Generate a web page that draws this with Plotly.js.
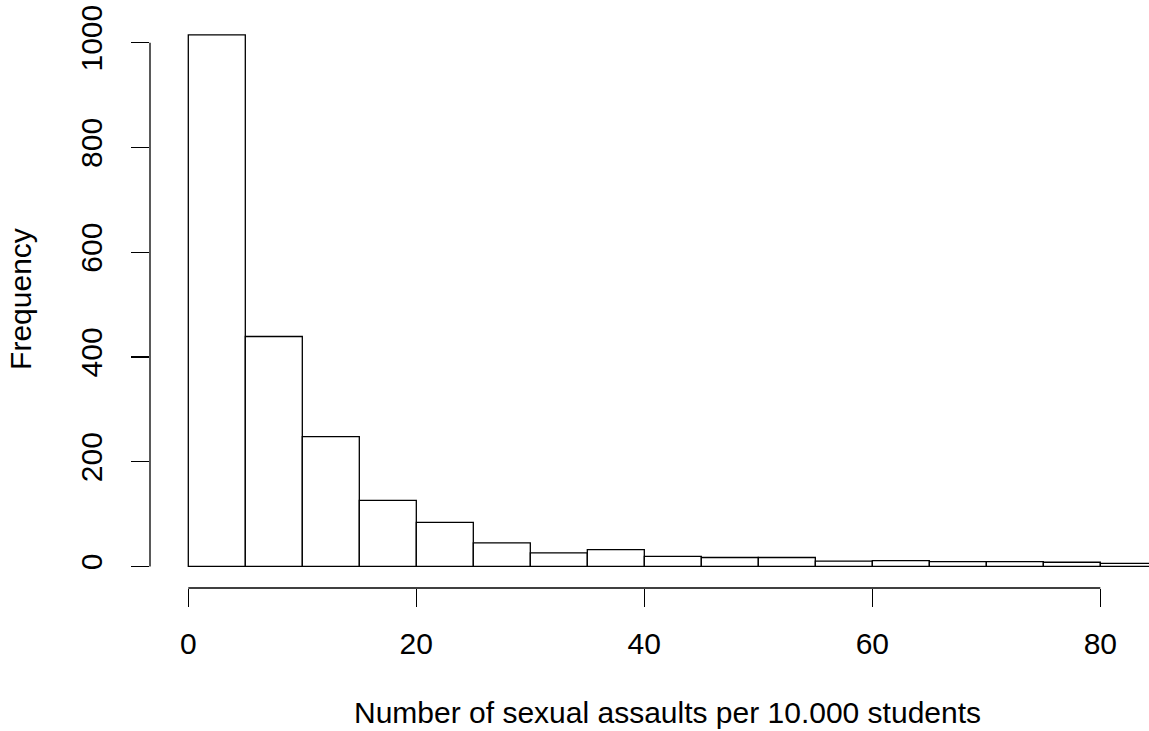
<!DOCTYPE html>
<html>
<head>
<meta charset="utf-8">
<script src="https://cdn.plot.ly/plotly-3.0.1.min.js"></script>
<style>
  html, body { margin: 0; padding: 0; background: #ffffff; }
  #chart { width: 1149px; height: 731px; }
</style>
</head>
<body>
<div id="chart"></div>
<script>
// Histogram bins (left edges, width 5) and frequencies
const binStarts = [0, 5, 10, 15, 20, 25, 30, 35, 40, 45, 50, 55, 60, 65, 70, 75, 80];
const binWidth = 5;
const counts = [1015, 439, 248, 126, 84, 45, 26, 32, 19, 17, 17, 10, 11, 9, 9, 8, 6];
const xTicks = [0, 20, 40, 60, 80];
const yTicks = [0, 200, 400, 600, 800, 1000];
const xTitle = "Number of sexual assaults per 10.000 students";
const yTitle = "Frequency";

const font = { family: "Liberation Sans, Arial, sans-serif", size: 30, color: "#000000" };

const trace = {
  type: "bar",
  x: binStarts,
  y: counts,
  width: binStarts.map(() => binWidth),
  offset: 0,
  marker: { color: "#ffffff", line: { color: "#000000", width: 1.3 } },
  hoverinfo: "x+y"
};

const layout = {
  width: 1149,
  height: 731,
  paper_bgcolor: "#ffffff",
  plot_bgcolor: "#ffffff",
  showlegend: false,
  font: font,
  margin: { l: 150, r: 0, t: 10, b: 143 },
  bargap: 0,
  xaxis: {
    range: [-3.36, 84.27],
    tickvals: xTicks,
    ticktext: xTicks.map(String),
    ticks: "outside",
    ticklen: 18,
    tickwidth: 1.3,
    tickcolor: "#000000",
    showline: false,
    showgrid: false,
    zeroline: false,
    tickfont: font,
    ticklabelstandoff: 11
  },
  yaxis: {
    range: [-41.2, 1062.4],
    tickvals: yTicks,
    ticktext: yTicks.map(String),
    ticks: "outside",
    ticklen: 18,
    tickwidth: 1.3,
    tickcolor: "#000000",
    tickangle: -90,
    showline: false,
    showgrid: false,
    zeroline: false,
    tickfont: font,
    ticklabelstandoff: 17,
    title: { text: yTitle, font: font, standoff: 34 }
  },
  annotations: [
    { text: xTitle, xref: "paper", yref: "paper", x: 0.5185, y: 0, xanchor: "center", yanchor: "middle",
      yshift: -124, borderpad: 0, showarrow: false, font: font }
  ],
  shapes: [
    { type: "line", xref: "x", yref: "paper", x0: xTicks[0], x1: xTicks[xTicks.length - 1], y0: 0, y1: 0,
      line: { color: "#000000", width: 1.3 } },
    { type: "line", xref: "paper", yref: "y", x0: 0, x1: 0, y0: yTicks[0], y1: yTicks[yTicks.length - 1],
      line: { color: "#000000", width: 1.3 } }
  ]
};

Plotly.newPlot("chart", [trace], layout, { displayModeBar: false, staticPlot: true });
</script>
</body>
</html>
